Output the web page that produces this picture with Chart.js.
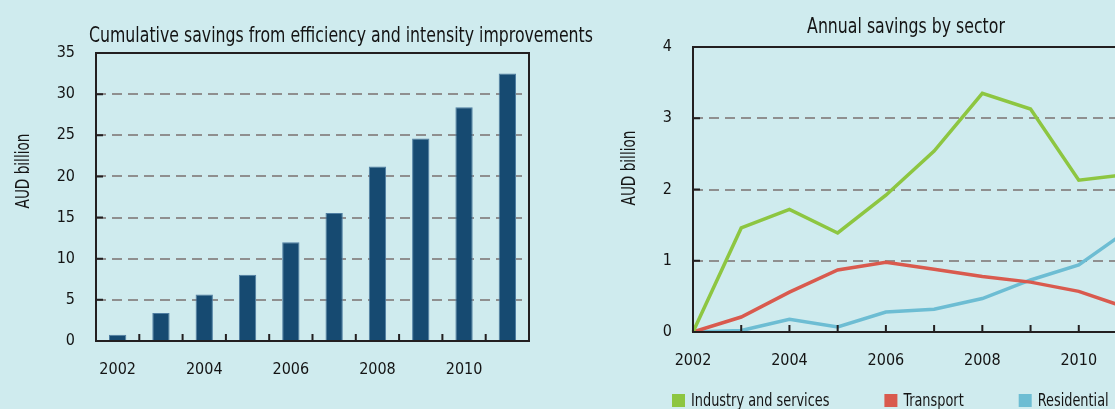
<!DOCTYPE html>
<html><head><meta charset="utf-8">
<script src="https://cdn.jsdelivr.net/npm/chart.js@4/dist/chart.umd.min.js"></script>
<style>
html,body{margin:0;padding:0;background:#cfebee;overflow:hidden;width:1115px;height:409px;}
#a{position:absolute;left:0;top:0;}
#b{position:absolute;left:600px;top:0;}
</style></head><body>
<canvas id="a" width="600" height="409"></canvas>
<canvas id="b" width="600" height="409"></canvas>
<script>
// ---- data ----
const years = ['2002','2003','2004','2005','2006','2007','2008','2009','2010','2011'];
const xLabelYears = ['2002','2004','2006','2008','2010'];
const cumulativeSavings = [0.75, 3.4, 5.65, 8.05, 12.0, 15.55, 21.2, 24.6, 28.4, 32.5];
const industryServices = [0, 1.46, 1.72, 1.39, 1.92, 2.54, 3.35, 3.13, 2.13, 2.21];
const transport = [0, 0.21, 0.56, 0.87, 0.98, 0.88, 0.78, 0.70, 0.57, 0.34];
const residential = [0, 0.02, 0.18, 0.07, 0.28, 0.32, 0.47, 0.73, 0.94, 1.42];
const yTicksLeft = [0, 5, 10, 15, 20, 25, 30, 35];
const yTicksRight = [0, 1, 2, 3, 4];
const titleLeft = 'Cumulative savings from efficiency and intensity improvements';
const titleRight = 'Annual savings by sector';
const yTitle = 'AUD billion';
const seriesNames = ['Industry and services', 'Transport', 'Residential'];

// ---- style ----
const FONT = "'Liberation Sans Narrow', 'DejaVu Sans Condensed', 'Liberation Sans', sans-serif";
const TEXT = '#141414';
const FRAME = '#231f20';
Chart.defaults.font.family = FONT;
Chart.defaults.color = TEXT;

// horizontal condensing factor so the wide fallback font matches the narrow original
let SX = null;
function condense(ctx){
  if (SX === null) {
    ctx.save(); ctx.font = '22px ' + FONT;
    SX = Math.min(1, 504 / ctx.measureText(titleLeft).width);
    ctx.restore();
  }
  return SX;
}
function drawText(ctx, text, x, y, align){
  const sx = condense(ctx);
  ctx.save();
  ctx.translate(x, y);
  ctx.scale(sx, 1);
  ctx.textAlign = align;
  ctx.fillText(text, 0, 0);
  ctx.restore();
  return ctx.measureText(text).width * sx;
}

function gridColor(max){
  return ctx => (ctx.tick && (ctx.tick.value === 0 || ctx.tick.value === max)) ? 'rgba(0,0,0,0)' : '#8f8f8f';
}

function framePlugin(kind, opts){
  return {
    id: 'frame_' + kind,
    afterDraw(chart){
      const ctx = chart.ctx;
      const {left, right, top, bottom} = chart.chartArea;
      const xs = chart.scales.x, ys = chart.scales.y;
      ctx.save();
      ctx.strokeStyle = FRAME;
      ctx.lineWidth = 2;
      ctx.beginPath();
      ctx.moveTo(left, top); ctx.lineTo(right, top); ctx.lineTo(right, bottom);
      ctx.lineTo(left, bottom); ctx.closePath();
      ctx.stroke();
      // inward ticks
      ctx.beginPath();
      ys.ticks.forEach(t => {
        if (t.value === ys.min || t.value === ys.max) return;
        const y = ys.getPixelForValue(t.value);
        ctx.moveTo(left, y); ctx.lineTo(left + 7, y);
      });
      const n = chart.data.labels.length;
      for (let i = 1; i < n; i++) {
        let x;
        if (kind === 'bar') x = (xs.getPixelForValue(i - 1) + xs.getPixelForValue(i)) / 2;
        else { if (i === n - 1) continue; x = xs.getPixelForValue(i); }
        ctx.moveTo(x, bottom); ctx.lineTo(x, bottom - 7);
      }
      ctx.stroke();
      // titles
      ctx.fillStyle = TEXT;
      ctx.textBaseline = 'alphabetic';
      ctx.font = '22px ' + FONT;
      drawText(ctx, opts.title, opts.titleX, opts.titleY, 'center');
      ctx.save();
      ctx.font = '19px ' + FONT;
      ctx.translate(opts.yTitleX, opts.yTitleY);
      ctx.rotate(-Math.PI / 2);
      ctx.textBaseline = 'middle';
      drawText(ctx, yTitle, 0, 0, 'center');
      ctx.restore();
      // legend
      if (opts.legend) {
        ctx.font = '18px ' + FONT;
        let x = opts.legendX;
        chart.data.datasets.forEach(ds => {
          ctx.fillStyle = ds.borderColor;
          ctx.fillRect(x, opts.legendY - 12, 13, 13);
          ctx.fillStyle = TEXT;
          const w = drawText(ctx, ds.label, x + 19, opts.legendY, 'left');
          x += 19 + w + 55;
        });
      }
      ctx.restore();
    }
  };
}

const tickFont = {size: 16, family: FONT};
const xTickCb = function(v, i){ return xLabelYears.includes(years[i]) ? years[i] : ''; };

new Chart(document.getElementById('a'), {
  type: 'bar',
  data: {
    labels: years,
    datasets: [{
      label: 'Cumulative savings',
      data: cumulativeSavings,
      backgroundColor: '#164a71',
      borderColor: '#4f7ea2',
      borderWidth: {top: 1, left: 1, right: 1, bottom: 0},
      barPercentage: 0.4,
      categoryPercentage: 1
    }]
  },
  options: {
    responsive: false, animation: false,
    layout: {padding: {left: 0, top: 53, right: 71, bottom: 0}},
    plugins: {legend: {display: false}, tooltip: {enabled: false}, title: {display: false}},
    scales: {
      x: {
        grid: {display: false, drawTicks: false},
        border: {display: false},
        ticks: {autoSkip: false, maxRotation: 0, padding: 19, color: TEXT, font: tickFont, callback: xTickCb},
        afterFit(s){ s.height = 68; }
      },
      y: {
        min: 0, max: 35,
        afterBuildTicks(s){ s.ticks = yTicksLeft.map(v => ({value: v})); },
        grid: {color: gridColor(35), lineWidth: 2, drawTicks: false},
        border: {display: false, dash: [10, 6]},
        ticks: {padding: 21, color: TEXT, font: tickFont},
        afterFit(s){ s.width = 96; }
      }
    }
  },
  plugins: [framePlugin('bar', {title: titleLeft, titleX: 341, titleY: 42, yTitleX: 24, yTitleY: 171})]
});

new Chart(document.getElementById('b'), {
  type: 'line',
  data: {
    labels: years,
    datasets: [
      {label: seriesNames[0], data: industryServices, borderColor: '#8dc641', backgroundColor: '#8dc641'},
      {label: seriesNames[1], data: transport, borderColor: '#d95a4e', backgroundColor: '#d95a4e'},
      {label: seriesNames[2], data: residential, borderColor: '#6dbdd3', backgroundColor: '#6dbdd3'}
    ]
  },
  options: {
    responsive: false, animation: false,
    elements: {line: {borderWidth: 3.5, tension: 0, borderCapStyle: 'butt', borderJoinStyle: 'miter'}, point: {radius: 0}},
    layout: {padding: {left: 0, top: 47, right: 73, bottom: 0}},
    plugins: {legend: {display: false}, tooltip: {enabled: false}, title: {display: false}},
    scales: {
      x: {
        grid: {display: false, drawTicks: false},
        border: {display: false},
        ticks: {autoSkip: false, maxRotation: 0, padding: 19, color: TEXT, font: tickFont, callback: xTickCb},
        afterFit(s){ s.height = 77; }
      },
      y: {
        min: 0, max: 4,
        afterBuildTicks(s){ s.ticks = yTicksRight.map(v => ({value: v})); },
        grid: {color: gridColor(4), lineWidth: 2, drawTicks: false},
        border: {display: false, dash: [10, 6]},
        ticks: {padding: 21, color: TEXT, font: tickFont},
        afterFit(s){ s.width = 93; }
      }
    }
  },
  plugins: [framePlugin('line', {title: titleRight, titleX: 306, titleY: 33, yTitleX: 30, yTitleY: 168, legend: true, legendX: 72, legendY: 406})]
});
</script>
</body></html>
